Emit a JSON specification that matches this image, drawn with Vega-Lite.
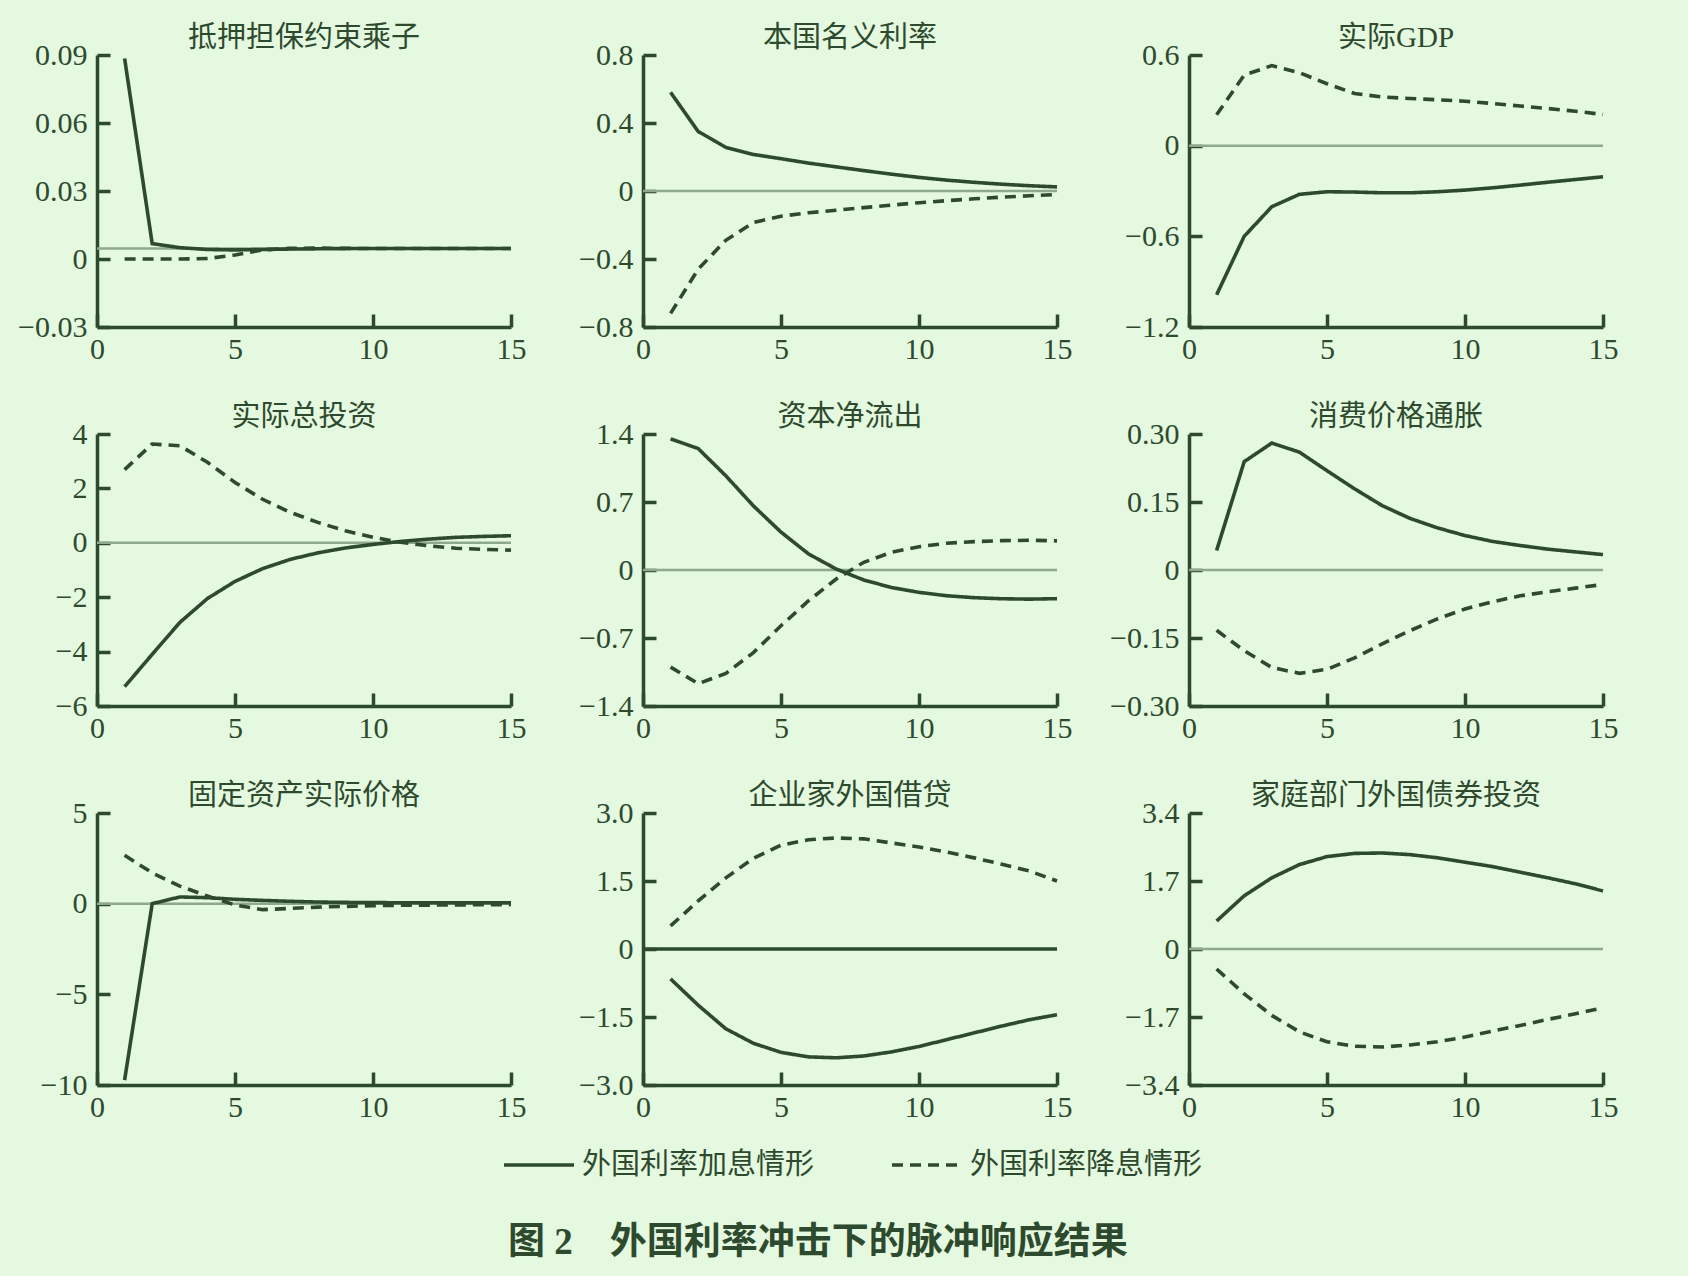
{
"$schema": "https://vega.github.io/schema/vega-lite/v6.json",
"background": "#e4f9df",
"padding": {"left": 17, "top": 24, "right": 72, "bottom": 22},
"bounds": "flush",
"columns": 3,
"spacing": {"row": 107, "column": 132},
"resolve": {"scale": {"strokeDash": "shared"}, "legend": {"strokeDash": "shared"}},
"title": {"text": "图 2　外国利率冲击下的脉冲响应结果", "orient": "bottom", "anchor": "middle", "frame": "bounds", "font": "Liberation Serif, Noto Sans CJK SC", "fontSize": 37, "fontWeight": "bold", "color": "#2e4a2e", "offset": 45, "dx": 0},
"config": {
  "view": {"stroke": null},
  "axis": {"domainColor": "#2e4a2e", "domainWidth": 3.5, "tickColor": "#2e4a2e", "tickWidth": 3.5, "tickSize": -13, "labelFont": "Liberation Serif", "labelFontSize": 30, "labelColor": "#2e4a2e", "labelPadding": 23, "grid": false, "labelFlush": false, "labelOverlap": false, "zindex": 0},
  "axisX": {"labelPadding": 20},
  "title": {"font": "Liberation Serif, Noto Sans CJK SC", "fontSize": 29, "fontWeight": "normal", "color": "#2e4a2e", "offset": -13, "anchor": "middle", "frame": "group"},
  "legend": {"orient": "none", "legendX": 405, "legendY": 1073, "direction": "horizontal", "symbolType": "stroke", "symbolSize": 4900, "symbolStrokeWidth": 3.4, "symbolStrokeColor": "#2e4a2e", "labelFont": "Noto Sans CJK SC", "labelFontSize": 29, "labelColor": "#2e4a2e", "labelOffset": 6, "labelLimit": 0, "columnPadding": 70, "padding": 0}
},
"datasets": {
  "ref": [
    {"p": 1, "y": 0.0046}, {"p": 2, "y": 0}, {"p": 3, "y": 0}, {"p": 4, "y": 0}, {"p": 5, "y": 0},
    {"p": 6, "y": 0}, {"p": 7, "y": 0}, {"p": 8, "y": 0}, {"p": 9, "y": 0}
  ],
  "irf": [
    {"p":1,"s":"外国利率加息情形","x":1,"y":0.0885},{"p":1,"s":"外国利率加息情形","x":2,"y":0.0068},{"p":1,"s":"外国利率加息情形","x":3,"y":0.0050},{"p":1,"s":"外国利率加息情形","x":4,"y":0.0042},{"p":1,"s":"外国利率加息情形","x":5,"y":0.0040},{"p":1,"s":"外国利率加息情形","x":6,"y":0.0042},{"p":1,"s":"外国利率加息情形","x":7,"y":0.0044},{"p":1,"s":"外国利率加息情形","x":8,"y":0.0045},{"p":1,"s":"外国利率加息情形","x":9,"y":0.0046},{"p":1,"s":"外国利率加息情形","x":10,"y":0.0046},{"p":1,"s":"外国利率加息情形","x":11,"y":0.0046},{"p":1,"s":"外国利率加息情形","x":12,"y":0.0046},{"p":1,"s":"外国利率加息情形","x":13,"y":0.0046},{"p":1,"s":"外国利率加息情形","x":14,"y":0.0046},{"p":1,"s":"外国利率加息情形","x":15,"y":0.0046},
    {"p":1,"s":"外国利率降息情形","x":1,"y":0},{"p":1,"s":"外国利率降息情形","x":2,"y":0},{"p":1,"s":"外国利率降息情形","x":3,"y":0},{"p":1,"s":"外国利率降息情形","x":4,"y":0.0002},{"p":1,"s":"外国利率降息情形","x":5,"y":0.0018},{"p":1,"s":"外国利率降息情形","x":6,"y":0.0040},{"p":1,"s":"外国利率降息情形","x":7,"y":0.0047},{"p":1,"s":"外国利率降息情形","x":8,"y":0.0048},{"p":1,"s":"外国利率降息情形","x":9,"y":0.0047},{"p":1,"s":"外国利率降息情形","x":10,"y":0.0046},{"p":1,"s":"外国利率降息情形","x":11,"y":0.0046},{"p":1,"s":"外国利率降息情形","x":12,"y":0.0046},{"p":1,"s":"外国利率降息情形","x":13,"y":0.0046},{"p":1,"s":"外国利率降息情形","x":14,"y":0.0046},{"p":1,"s":"外国利率降息情形","x":15,"y":0.0046},
    {"p":2,"s":"外国利率加息情形","x":1,"y":0.58},{"p":2,"s":"外国利率加息情形","x":2,"y":0.35},{"p":2,"s":"外国利率加息情形","x":3,"y":0.257},{"p":2,"s":"外国利率加息情形","x":4,"y":0.215},{"p":2,"s":"外国利率加息情形","x":5,"y":0.19},{"p":2,"s":"外国利率加息情形","x":6,"y":0.164},{"p":2,"s":"外国利率加息情形","x":7,"y":0.142},{"p":2,"s":"外国利率加息情形","x":8,"y":0.12},{"p":2,"s":"外国利率加息情形","x":9,"y":0.099},{"p":2,"s":"外国利率加息情形","x":10,"y":0.08},{"p":2,"s":"外国利率加息情形","x":11,"y":0.064},{"p":2,"s":"外国利率加息情形","x":12,"y":0.051},{"p":2,"s":"外国利率加息情形","x":13,"y":0.04},{"p":2,"s":"外国利率加息情形","x":14,"y":0.031},{"p":2,"s":"外国利率加息情形","x":15,"y":0.024},
    {"p":2,"s":"外国利率降息情形","x":1,"y":-0.72},{"p":2,"s":"外国利率降息情形","x":2,"y":-0.46},{"p":2,"s":"外国利率降息情形","x":3,"y":-0.29},{"p":2,"s":"外国利率降息情形","x":4,"y":-0.185},{"p":2,"s":"外国利率降息情形","x":5,"y":-0.148},{"p":2,"s":"外国利率降息情形","x":6,"y":-0.128},{"p":2,"s":"外国利率降息情形","x":7,"y":-0.113},{"p":2,"s":"外国利率降息情形","x":8,"y":-0.098},{"p":2,"s":"外国利率降息情形","x":9,"y":-0.083},{"p":2,"s":"外国利率降息情形","x":10,"y":-0.069},{"p":2,"s":"外国利率降息情形","x":11,"y":-0.057},{"p":2,"s":"外国利率降息情形","x":12,"y":-0.046},{"p":2,"s":"外国利率降息情形","x":13,"y":-0.036},{"p":2,"s":"外国利率降息情形","x":14,"y":-0.028},{"p":2,"s":"外国利率降息情形","x":15,"y":-0.021},
    {"p":3,"s":"外国利率加息情形","x":1,"y":-0.987},{"p":3,"s":"外国利率加息情形","x":2,"y":-0.60},{"p":3,"s":"外国利率加息情形","x":3,"y":-0.404},{"p":3,"s":"外国利率加息情形","x":4,"y":-0.322},{"p":3,"s":"外国利率加息情形","x":5,"y":-0.305},{"p":3,"s":"外国利率加息情形","x":6,"y":-0.307},{"p":3,"s":"外国利率加息情形","x":7,"y":-0.312},{"p":3,"s":"外国利率加息情形","x":8,"y":-0.312},{"p":3,"s":"外国利率加息情形","x":9,"y":-0.305},{"p":3,"s":"外国利率加息情形","x":10,"y":-0.294},{"p":3,"s":"外国利率加息情形","x":11,"y":-0.279},{"p":3,"s":"外国利率加息情形","x":12,"y":-0.261},{"p":3,"s":"外国利率加息情形","x":13,"y":-0.242},{"p":3,"s":"外国利率加息情形","x":14,"y":-0.224},{"p":3,"s":"外国利率加息情形","x":15,"y":-0.206},
    {"p":3,"s":"外国利率降息情形","x":1,"y":0.204},{"p":3,"s":"外国利率降息情形","x":2,"y":0.467},{"p":3,"s":"外国利率降息情形","x":3,"y":0.53},{"p":3,"s":"外国利率降息情形","x":4,"y":0.483},{"p":3,"s":"外国利率降息情形","x":5,"y":0.41},{"p":3,"s":"外国利率降息情形","x":6,"y":0.345},{"p":3,"s":"外国利率降息情形","x":7,"y":0.322},{"p":3,"s":"外国利率降息情形","x":8,"y":0.312},{"p":3,"s":"外国利率降息情形","x":9,"y":0.304},{"p":3,"s":"外国利率降息情形","x":10,"y":0.294},{"p":3,"s":"外国利率降息情形","x":11,"y":0.279},{"p":3,"s":"外国利率降息情形","x":12,"y":0.262},{"p":3,"s":"外国利率降息情形","x":13,"y":0.246},{"p":3,"s":"外国利率降息情形","x":14,"y":0.228},{"p":3,"s":"外国利率降息情形","x":15,"y":0.206},
    {"p":4,"s":"外国利率加息情形","x":1,"y":-5.29},{"p":4,"s":"外国利率加息情形","x":2,"y":-4.1},{"p":4,"s":"外国利率加息情形","x":3,"y":-2.93},{"p":4,"s":"外国利率加息情形","x":4,"y":-2.05},{"p":4,"s":"外国利率加息情形","x":5,"y":-1.42},{"p":4,"s":"外国利率加息情形","x":6,"y":-0.95},{"p":4,"s":"外国利率加息情形","x":7,"y":-0.61},{"p":4,"s":"外国利率加息情形","x":8,"y":-0.37},{"p":4,"s":"外国利率加息情形","x":9,"y":-0.19},{"p":4,"s":"外国利率加息情形","x":10,"y":-0.06},{"p":4,"s":"外国利率加息情形","x":11,"y":0.05},{"p":4,"s":"外国利率加息情形","x":12,"y":0.135},{"p":4,"s":"外国利率加息情形","x":13,"y":0.2},{"p":4,"s":"外国利率加息情形","x":14,"y":0.235},{"p":4,"s":"外国利率加息情形","x":15,"y":0.26},
    {"p":4,"s":"外国利率降息情形","x":1,"y":2.69},{"p":4,"s":"外国利率降息情形","x":2,"y":3.63},{"p":4,"s":"外国利率降息情形","x":3,"y":3.57},{"p":4,"s":"外国利率降息情形","x":4,"y":2.96},{"p":4,"s":"外国利率降息情形","x":5,"y":2.22},{"p":4,"s":"外国利率降息情形","x":6,"y":1.6},{"p":4,"s":"外国利率降息情形","x":7,"y":1.12},{"p":4,"s":"外国利率降息情形","x":8,"y":0.75},{"p":4,"s":"外国利率降息情形","x":9,"y":0.44},{"p":4,"s":"外国利率降息情形","x":10,"y":0.2},{"p":4,"s":"外国利率降息情形","x":11,"y":0.02},{"p":4,"s":"外国利率降息情形","x":12,"y":-0.11},{"p":4,"s":"外国利率降息情形","x":13,"y":-0.2},{"p":4,"s":"外国利率降息情形","x":14,"y":-0.24},{"p":4,"s":"外国利率降息情形","x":15,"y":-0.27},
    {"p":5,"s":"外国利率加息情形","x":1,"y":1.35},{"p":5,"s":"外国利率加息情形","x":2,"y":1.25},{"p":5,"s":"外国利率加息情形","x":3,"y":0.97},{"p":5,"s":"外国利率加息情形","x":4,"y":0.66},{"p":5,"s":"外国利率加息情形","x":5,"y":0.39},{"p":5,"s":"外国利率加息情形","x":6,"y":0.165},{"p":5,"s":"外国利率加息情形","x":7,"y":0.01},{"p":5,"s":"外国利率加息情形","x":8,"y":-0.103},{"p":5,"s":"外国利率加息情形","x":9,"y":-0.18},{"p":5,"s":"外国利率加息情形","x":10,"y":-0.23},{"p":5,"s":"外国利率加息情形","x":11,"y":-0.265},{"p":5,"s":"外国利率加息情形","x":12,"y":-0.285},{"p":5,"s":"外国利率加息情形","x":13,"y":-0.296},{"p":5,"s":"外国利率加息情形","x":14,"y":-0.3},{"p":5,"s":"外国利率加息情形","x":15,"y":-0.295},
    {"p":5,"s":"外国利率降息情形","x":1,"y":-1.0},{"p":5,"s":"外国利率降息情形","x":2,"y":-1.17},{"p":5,"s":"外国利率降息情形","x":3,"y":-1.065},{"p":5,"s":"外国利率降息情形","x":4,"y":-0.85},{"p":5,"s":"外国利率降息情形","x":5,"y":-0.574},{"p":5,"s":"外国利率降息情形","x":6,"y":-0.316},{"p":5,"s":"外国利率降息情形","x":7,"y":-0.093},{"p":5,"s":"外国利率降息情形","x":8,"y":0.079},{"p":5,"s":"外国利率降息情形","x":9,"y":0.182},{"p":5,"s":"外国利率降息情形","x":10,"y":0.24},{"p":5,"s":"外国利率降息情形","x":11,"y":0.275},{"p":5,"s":"外国利率降息情形","x":12,"y":0.292},{"p":5,"s":"外国利率降息情形","x":13,"y":0.302},{"p":5,"s":"外国利率降息情形","x":14,"y":0.306},{"p":5,"s":"外国利率降息情形","x":15,"y":0.3},
    {"p":6,"s":"外国利率加息情形","x":1,"y":0.043},{"p":6,"s":"外国利率加息情形","x":2,"y":0.239},{"p":6,"s":"外国利率加息情形","x":3,"y":0.28},{"p":6,"s":"外国利率加息情形","x":4,"y":0.26},{"p":6,"s":"外国利率加息情形","x":5,"y":0.219},{"p":6,"s":"外国利率加息情形","x":6,"y":0.179},{"p":6,"s":"外国利率加息情形","x":7,"y":0.142},{"p":6,"s":"外国利率加息情形","x":8,"y":0.114},{"p":6,"s":"外国利率加息情形","x":9,"y":0.093},{"p":6,"s":"外国利率加息情形","x":10,"y":0.076},{"p":6,"s":"外国利率加息情形","x":11,"y":0.063},{"p":6,"s":"外国利率加息情形","x":12,"y":0.054},{"p":6,"s":"外国利率加息情形","x":13,"y":0.046},{"p":6,"s":"外国利率加息情形","x":14,"y":0.04},{"p":6,"s":"外国利率加息情形","x":15,"y":0.034},
    {"p":6,"s":"外国利率降息情形","x":1,"y":-0.133},{"p":6,"s":"外国利率降息情形","x":2,"y":-0.178},{"p":6,"s":"外国利率降息情形","x":3,"y":-0.215},{"p":6,"s":"外国利率降息情形","x":4,"y":-0.228},{"p":6,"s":"外国利率降息情形","x":5,"y":-0.219},{"p":6,"s":"外国利率降息情形","x":6,"y":-0.194},{"p":6,"s":"外国利率降息情形","x":7,"y":-0.163},{"p":6,"s":"外国利率降息情形","x":8,"y":-0.134},{"p":6,"s":"外国利率降息情形","x":9,"y":-0.108},{"p":6,"s":"外国利率降息情形","x":10,"y":-0.086},{"p":6,"s":"外国利率降息情形","x":11,"y":-0.07},{"p":6,"s":"外国利率降息情形","x":12,"y":-0.057},{"p":6,"s":"外国利率降息情形","x":13,"y":-0.048},{"p":6,"s":"外国利率降息情形","x":14,"y":-0.04},{"p":6,"s":"外国利率降息情形","x":15,"y":-0.032},
    {"p":7,"s":"外国利率加息情形","x":1,"y":-9.73},{"p":7,"s":"外国利率加息情形","x":2,"y":0.0},{"p":7,"s":"外国利率加息情形","x":3,"y":0.37},{"p":7,"s":"外国利率加息情形","x":4,"y":0.33},{"p":7,"s":"外国利率加息情形","x":5,"y":0.24},{"p":7,"s":"外国利率加息情形","x":6,"y":0.18},{"p":7,"s":"外国利率加息情形","x":7,"y":0.13},{"p":7,"s":"外国利率加息情形","x":8,"y":0.09},{"p":7,"s":"外国利率加息情形","x":9,"y":0.07},{"p":7,"s":"外国利率加息情形","x":10,"y":0.06},{"p":7,"s":"外国利率加息情形","x":11,"y":0.05},{"p":7,"s":"外国利率加息情形","x":12,"y":0.05},{"p":7,"s":"外国利率加息情形","x":13,"y":0.05},{"p":7,"s":"外国利率加息情形","x":14,"y":0.05},{"p":7,"s":"外国利率加息情形","x":15,"y":0.05},
    {"p":7,"s":"外国利率降息情形","x":1,"y":2.67},{"p":7,"s":"外国利率降息情形","x":2,"y":1.7},{"p":7,"s":"外国利率降息情形","x":3,"y":0.97},{"p":7,"s":"外国利率降息情形","x":4,"y":0.42},{"p":7,"s":"外国利率降息情形","x":5,"y":-0.07},{"p":7,"s":"外国利率降息情形","x":6,"y":-0.33},{"p":7,"s":"外国利率降息情形","x":7,"y":-0.26},{"p":7,"s":"外国利率降息情形","x":8,"y":-0.19},{"p":7,"s":"外国利率降息情形","x":9,"y":-0.15},{"p":7,"s":"外国利率降息情形","x":10,"y":-0.11},{"p":7,"s":"外国利率降息情形","x":11,"y":-0.09},{"p":7,"s":"外国利率降息情形","x":12,"y":-0.08},{"p":7,"s":"外国利率降息情形","x":13,"y":-0.07},{"p":7,"s":"外国利率降息情形","x":14,"y":-0.06},{"p":7,"s":"外国利率降息情形","x":15,"y":-0.05},
    {"p":8,"s":"外国利率加息情形","x":1,"y":-0.66},{"p":8,"s":"外国利率加息情形","x":2,"y":-1.24},{"p":8,"s":"外国利率加息情形","x":3,"y":-1.76},{"p":8,"s":"外国利率加息情形","x":4,"y":-2.08},{"p":8,"s":"外国利率加息情形","x":5,"y":-2.28},{"p":8,"s":"外国利率加息情形","x":6,"y":-2.38},{"p":8,"s":"外国利率加息情形","x":7,"y":-2.4},{"p":8,"s":"外国利率加息情形","x":8,"y":-2.36},{"p":8,"s":"外国利率加息情形","x":9,"y":-2.27},{"p":8,"s":"外国利率加息情形","x":10,"y":-2.15},{"p":8,"s":"外国利率加息情形","x":11,"y":-2.0},{"p":8,"s":"外国利率加息情形","x":12,"y":-1.85},{"p":8,"s":"外国利率加息情形","x":13,"y":-1.7},{"p":8,"s":"外国利率加息情形","x":14,"y":-1.56},{"p":8,"s":"外国利率加息情形","x":15,"y":-1.45},
    {"p":8,"s":"外国利率降息情形","x":1,"y":0.51},{"p":8,"s":"外国利率降息情形","x":2,"y":1.06},{"p":8,"s":"外国利率降息情形","x":3,"y":1.57},{"p":8,"s":"外国利率降息情形","x":4,"y":2.0},{"p":8,"s":"外国利率降息情形","x":5,"y":2.29},{"p":8,"s":"外国利率降息情形","x":6,"y":2.41},{"p":8,"s":"外国利率降息情形","x":7,"y":2.45},{"p":8,"s":"外国利率降息情形","x":8,"y":2.43},{"p":8,"s":"外国利率降息情形","x":9,"y":2.34},{"p":8,"s":"外国利率降息情形","x":10,"y":2.25},{"p":8,"s":"外国利率降息情形","x":11,"y":2.14},{"p":8,"s":"外国利率降息情形","x":12,"y":2.01},{"p":8,"s":"外国利率降息情形","x":13,"y":1.87},{"p":8,"s":"外国利率降息情形","x":14,"y":1.72},{"p":8,"s":"外国利率降息情形","x":15,"y":1.5},
    {"p":9,"s":"外国利率加息情形","x":1,"y":0.70},{"p":9,"s":"外国利率加息情形","x":2,"y":1.33},{"p":9,"s":"外国利率加息情形","x":3,"y":1.78},{"p":9,"s":"外国利率加息情形","x":4,"y":2.11},{"p":9,"s":"外国利率加息情形","x":5,"y":2.31},{"p":9,"s":"外国利率加息情形","x":6,"y":2.39},{"p":9,"s":"外国利率加息情形","x":7,"y":2.4},{"p":9,"s":"外国利率加息情形","x":8,"y":2.36},{"p":9,"s":"外国利率加息情形","x":9,"y":2.28},{"p":9,"s":"外国利率加息情形","x":10,"y":2.17},{"p":9,"s":"外国利率加息情形","x":11,"y":2.06},{"p":9,"s":"外国利率加息情形","x":12,"y":1.92},{"p":9,"s":"外国利率加息情形","x":13,"y":1.78},{"p":9,"s":"外国利率加息情形","x":14,"y":1.63},{"p":9,"s":"外国利率加息情形","x":15,"y":1.45},
    {"p":9,"s":"外国利率降息情形","x":1,"y":-0.5},{"p":9,"s":"外国利率降息情形","x":2,"y":-1.12},{"p":9,"s":"外国利率降息情形","x":3,"y":-1.66},{"p":9,"s":"外国利率降息情形","x":4,"y":-2.07},{"p":9,"s":"外国利率降息情形","x":5,"y":-2.32},{"p":9,"s":"外国利率降息情形","x":6,"y":-2.43},{"p":9,"s":"外国利率降息情形","x":7,"y":-2.45},{"p":9,"s":"外国利率降息情形","x":8,"y":-2.4},{"p":9,"s":"外国利率降息情形","x":9,"y":-2.32},{"p":9,"s":"外国利率降息情形","x":10,"y":-2.2},{"p":9,"s":"外国利率降息情形","x":11,"y":-2.05},{"p":9,"s":"外国利率降息情形","x":12,"y":-1.91},{"p":9,"s":"外国利率降息情形","x":13,"y":-1.76},{"p":9,"s":"外国利率降息情形","x":14,"y":-1.62},{"p":9,"s":"外国利率降息情形","x":15,"y":-1.47}
  ]
},
"concat": [
  {"width": 414, "height": 272, "title": "抵押担保约束乘子", "layer": [
    {"data": {"name": "ref"}, "transform": [{"filter": "datum.p == 1"}], "mark": {"type": "rule", "color": "#8fa98c", "strokeWidth": 2.5}, "encoding": {"y": {"field": "y", "type": "quantitative"}}},
    {"data": {"name": "irf"}, "transform": [{"filter": "datum.p == 1"}], "mark": {"type": "line", "color": "#2e4a2e", "strokeWidth": 3.6}, "encoding": {
      "x": {"field": "x", "type": "quantitative", "scale": {"domain": [0, 15], "nice": false, "zero": false}, "axis": {"values": [0, 5, 10, 15], "format": "d", "title": null}},
      "y": {"field": "y", "type": "quantitative", "scale": {"domain": [-0.03, 0.09], "nice": false, "zero": false}, "axis": {"values": [-0.03, 0, 0.03, 0.06, 0.09], "labelExpr": "datum.value == 0 ? '0' : format(datum.value, '.2f')", "title": null}},
      "strokeDash": {"field": "s", "type": "nominal", "scale": {"domain": ["外国利率加息情形", "外国利率降息情形"], "range": [[1, 0], [11, 7]]}, "legend": {"title": null}}}}
  ]},
  {"width": 414, "height": 272, "title": "本国名义利率", "layer": [
    {"data": {"name": "ref"}, "transform": [{"filter": "datum.p == 2"}], "mark": {"type": "rule", "color": "#8fa98c", "strokeWidth": 2.5}, "encoding": {"y": {"field": "y", "type": "quantitative"}}},
    {"data": {"name": "irf"}, "transform": [{"filter": "datum.p == 2"}], "mark": {"type": "line", "color": "#2e4a2e", "strokeWidth": 3.6}, "encoding": {
      "x": {"field": "x", "type": "quantitative", "scale": {"domain": [0, 15], "nice": false, "zero": false}, "axis": {"values": [0, 5, 10, 15], "format": "d", "title": null}},
      "y": {"field": "y", "type": "quantitative", "scale": {"domain": [-0.8, 0.8], "nice": false, "zero": false}, "axis": {"values": [-0.8, -0.4, 0, 0.4, 0.8], "labelExpr": "datum.value == 0 ? '0' : format(datum.value, '.1f')", "title": null}},
      "strokeDash": {"field": "s", "type": "nominal", "scale": {"domain": ["外国利率加息情形", "外国利率降息情形"], "range": [[1, 0], [11, 7]]}, "legend": {"title": null}}}}
  ]},
  {"width": 414, "height": 272, "title": "实际GDP", "layer": [
    {"data": {"name": "ref"}, "transform": [{"filter": "datum.p == 3"}], "mark": {"type": "rule", "color": "#8fa98c", "strokeWidth": 2.5}, "encoding": {"y": {"field": "y", "type": "quantitative"}}},
    {"data": {"name": "irf"}, "transform": [{"filter": "datum.p == 3"}], "mark": {"type": "line", "color": "#2e4a2e", "strokeWidth": 3.6}, "encoding": {
      "x": {"field": "x", "type": "quantitative", "scale": {"domain": [0, 15], "nice": false, "zero": false}, "axis": {"values": [0, 5, 10, 15], "format": "d", "title": null}},
      "y": {"field": "y", "type": "quantitative", "scale": {"domain": [-1.2, 0.6], "nice": false, "zero": false}, "axis": {"values": [-1.2, -0.6, 0, 0.6], "labelExpr": "datum.value == 0 ? '0' : format(datum.value, '.1f')", "title": null}},
      "strokeDash": {"field": "s", "type": "nominal", "scale": {"domain": ["外国利率加息情形", "外国利率降息情形"], "range": [[1, 0], [11, 7]]}, "legend": {"title": null}}}}
  ]},
  {"width": 414, "height": 272, "title": "实际总投资", "layer": [
    {"data": {"name": "ref"}, "transform": [{"filter": "datum.p == 4"}], "mark": {"type": "rule", "color": "#8fa98c", "strokeWidth": 2.5}, "encoding": {"y": {"field": "y", "type": "quantitative"}}},
    {"data": {"name": "irf"}, "transform": [{"filter": "datum.p == 4"}], "mark": {"type": "line", "color": "#2e4a2e", "strokeWidth": 3.6}, "encoding": {
      "x": {"field": "x", "type": "quantitative", "scale": {"domain": [0, 15], "nice": false, "zero": false}, "axis": {"values": [0, 5, 10, 15], "format": "d", "title": null}},
      "y": {"field": "y", "type": "quantitative", "scale": {"domain": [-6, 4], "nice": false, "zero": false}, "axis": {"values": [-6, -4, -2, 0, 2, 4], "labelExpr": "datum.value == 0 ? '0' : format(datum.value, 'd')", "title": null}},
      "strokeDash": {"field": "s", "type": "nominal", "scale": {"domain": ["外国利率加息情形", "外国利率降息情形"], "range": [[1, 0], [11, 7]]}, "legend": {"title": null}}}}
  ]},
  {"width": 414, "height": 272, "title": "资本净流出", "layer": [
    {"data": {"name": "ref"}, "transform": [{"filter": "datum.p == 5"}], "mark": {"type": "rule", "color": "#8fa98c", "strokeWidth": 2.5}, "encoding": {"y": {"field": "y", "type": "quantitative"}}},
    {"data": {"name": "irf"}, "transform": [{"filter": "datum.p == 5"}], "mark": {"type": "line", "color": "#2e4a2e", "strokeWidth": 3.6}, "encoding": {
      "x": {"field": "x", "type": "quantitative", "scale": {"domain": [0, 15], "nice": false, "zero": false}, "axis": {"values": [0, 5, 10, 15], "format": "d", "title": null}},
      "y": {"field": "y", "type": "quantitative", "scale": {"domain": [-1.4, 1.4], "nice": false, "zero": false}, "axis": {"values": [-1.4, -0.7, 0, 0.7, 1.4], "labelExpr": "datum.value == 0 ? '0' : format(datum.value, '.1f')", "title": null}},
      "strokeDash": {"field": "s", "type": "nominal", "scale": {"domain": ["外国利率加息情形", "外国利率降息情形"], "range": [[1, 0], [11, 7]]}, "legend": {"title": null}}}}
  ]},
  {"width": 414, "height": 272, "title": "消费价格通胀", "layer": [
    {"data": {"name": "ref"}, "transform": [{"filter": "datum.p == 6"}], "mark": {"type": "rule", "color": "#8fa98c", "strokeWidth": 2.5}, "encoding": {"y": {"field": "y", "type": "quantitative"}}},
    {"data": {"name": "irf"}, "transform": [{"filter": "datum.p == 6"}], "mark": {"type": "line", "color": "#2e4a2e", "strokeWidth": 3.6}, "encoding": {
      "x": {"field": "x", "type": "quantitative", "scale": {"domain": [0, 15], "nice": false, "zero": false}, "axis": {"values": [0, 5, 10, 15], "format": "d", "title": null}},
      "y": {"field": "y", "type": "quantitative", "scale": {"domain": [-0.3, 0.3], "nice": false, "zero": false}, "axis": {"values": [-0.3, -0.15, 0, 0.15, 0.3], "labelExpr": "datum.value == 0 ? '0' : format(datum.value, '.2f')", "title": null}},
      "strokeDash": {"field": "s", "type": "nominal", "scale": {"domain": ["外国利率加息情形", "外国利率降息情形"], "range": [[1, 0], [11, 7]]}, "legend": {"title": null}}}}
  ]},
  {"width": 414, "height": 272, "title": "固定资产实际价格", "layer": [
    {"data": {"name": "ref"}, "transform": [{"filter": "datum.p == 7"}], "mark": {"type": "rule", "color": "#8fa98c", "strokeWidth": 2.5}, "encoding": {"y": {"field": "y", "type": "quantitative"}}},
    {"data": {"name": "irf"}, "transform": [{"filter": "datum.p == 7"}], "mark": {"type": "line", "color": "#2e4a2e", "strokeWidth": 3.6}, "encoding": {
      "x": {"field": "x", "type": "quantitative", "scale": {"domain": [0, 15], "nice": false, "zero": false}, "axis": {"values": [0, 5, 10, 15], "format": "d", "title": null}},
      "y": {"field": "y", "type": "quantitative", "scale": {"domain": [-10, 5], "nice": false, "zero": false}, "axis": {"values": [-10, -5, 0, 5], "labelExpr": "datum.value == 0 ? '0' : format(datum.value, 'd')", "title": null}},
      "strokeDash": {"field": "s", "type": "nominal", "scale": {"domain": ["外国利率加息情形", "外国利率降息情形"], "range": [[1, 0], [11, 7]]}, "legend": {"title": null}}}}
  ]},
  {"width": 414, "height": 272, "title": "企业家外国借贷", "layer": [
    {"data": {"name": "ref"}, "transform": [{"filter": "datum.p == 8"}], "mark": {"type": "rule", "color": "#2e4a2e", "strokeWidth": 3.6}, "encoding": {"y": {"field": "y", "type": "quantitative"}}},
    {"data": {"name": "irf"}, "transform": [{"filter": "datum.p == 8"}], "mark": {"type": "line", "color": "#2e4a2e", "strokeWidth": 3.6}, "encoding": {
      "x": {"field": "x", "type": "quantitative", "scale": {"domain": [0, 15], "nice": false, "zero": false}, "axis": {"values": [0, 5, 10, 15], "format": "d", "title": null}},
      "y": {"field": "y", "type": "quantitative", "scale": {"domain": [-3, 3], "nice": false, "zero": false}, "axis": {"values": [-3, -1.5, 0, 1.5, 3], "labelExpr": "datum.value == 0 ? '0' : format(datum.value, '.1f')", "title": null}},
      "strokeDash": {"field": "s", "type": "nominal", "scale": {"domain": ["外国利率加息情形", "外国利率降息情形"], "range": [[1, 0], [11, 7]]}, "legend": {"title": null}}}}
  ]},
  {"width": 414, "height": 272, "title": "家庭部门外国债券投资", "layer": [
    {"data": {"name": "ref"}, "transform": [{"filter": "datum.p == 9"}], "mark": {"type": "rule", "color": "#8fa98c", "strokeWidth": 2.5}, "encoding": {"y": {"field": "y", "type": "quantitative"}}},
    {"data": {"name": "irf"}, "transform": [{"filter": "datum.p == 9"}], "mark": {"type": "line", "color": "#2e4a2e", "strokeWidth": 3.6}, "encoding": {
      "x": {"field": "x", "type": "quantitative", "scale": {"domain": [0, 15], "nice": false, "zero": false}, "axis": {"values": [0, 5, 10, 15], "format": "d", "title": null}},
      "y": {"field": "y", "type": "quantitative", "scale": {"domain": [-3.4, 3.4], "nice": false, "zero": false}, "axis": {"values": [-3.4, -1.7, 0, 1.7, 3.4], "labelExpr": "datum.value == 0 ? '0' : format(datum.value, '.1f')", "title": null}},
      "strokeDash": {"field": "s", "type": "nominal", "scale": {"domain": ["外国利率加息情形", "外国利率降息情形"], "range": [[1, 0], [11, 7]]}, "legend": {"title": null}}}}
  ]}
]
}
